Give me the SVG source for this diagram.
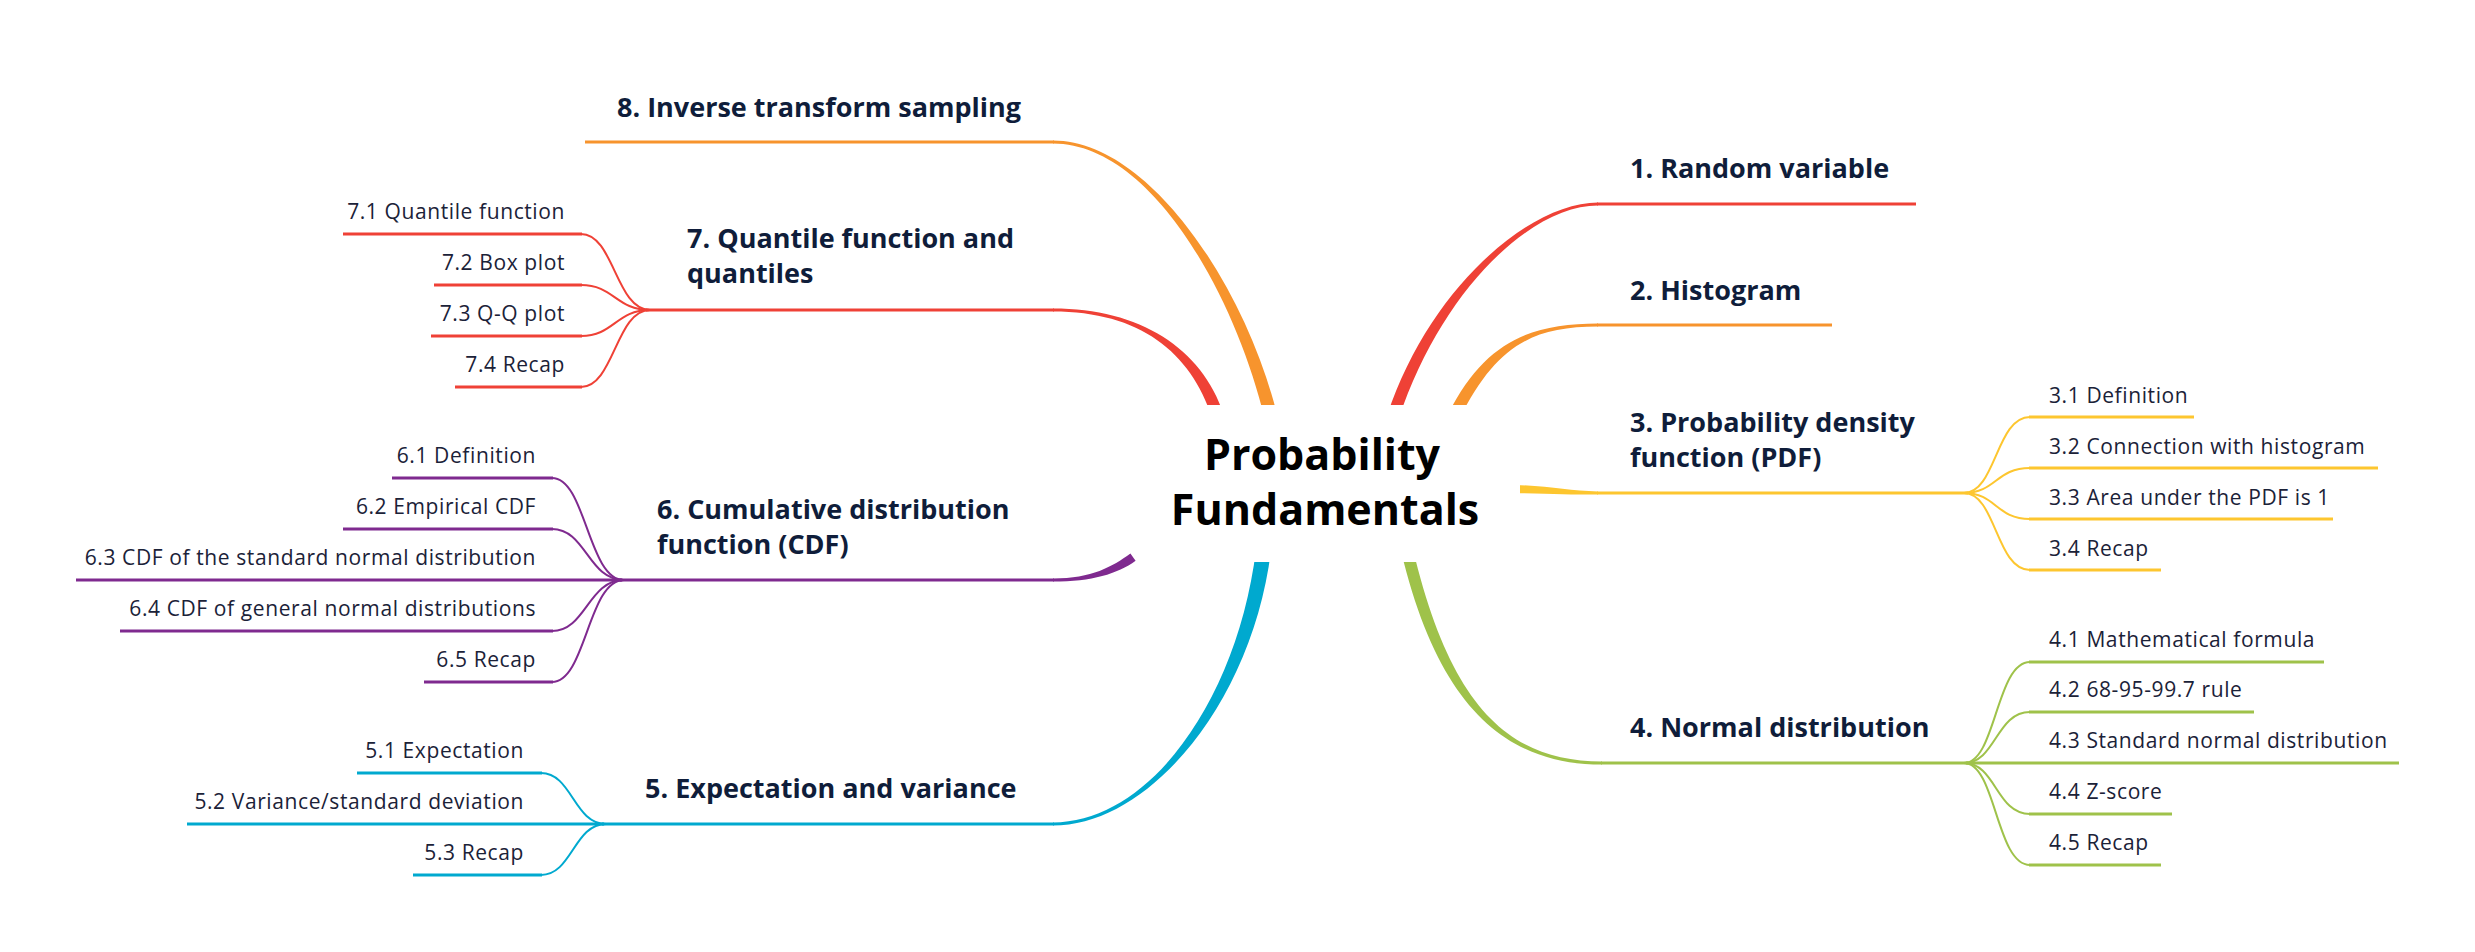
<svg xmlns="http://www.w3.org/2000/svg" width="2475" height="952" viewBox="0 0 2475 952">
<style>
.c{fill:none;stroke-linecap:butt}
.sub{stroke-width:2}
.ul{stroke-width:3}
.main{stroke-width:3.2}
.red{stroke:#ef4136}.redf{fill:#ef4136}
.org{stroke:#f7942d}.orgf{fill:#f7942d}
.yel{stroke:#fdc62f}.yelf{fill:#fdc62f}
.grn{stroke:#9fc24a}.grnf{fill:#9fc24a}
.cyn{stroke:#00a9cf}.cynf{fill:#00a9cf}
.pur{stroke:#7f2a8f}.purf{fill:#7f2a8f}
.t1{font-family:"Open Sans","Liberation Sans",sans-serif;font-weight:700;font-size:27px;fill:#0f1d3a}
.t2{font-family:"Open Sans","Liberation Sans",sans-serif;font-weight:400;font-size:21px;letter-spacing:0.6px;fill:#1b2238}
.tc{font-family:"Open Sans","Liberation Sans",sans-serif;font-weight:700;font-size:43px;fill:#000;text-anchor:middle}
.e{text-anchor:end}
</style>
<rect width="2475" height="952" fill="#fff"/>
<g id="connectors">
  <path class="redf" d="M1398.7,418.9 C1440.7,291.9 1530,205.6 1598,205.6 L1598,202.4 C1530,202.4 1429.3,288.1 1387.3,415.1 Z"/>
  <line class="c main red" x1="1597" y1="204" x2="1916" y2="204"/>
  <path class="orgf" d="M1459.4,418.7 C1495.4,347.7 1530,326.6 1598,326.6 L1598,323.4 C1530,323.4 1484.6,342.3 1448.6,413.3 Z"/>
  <line class="c main org" x1="1597" y1="325" x2="1832" y2="325"/>
  <path class="yelf" d="M1515,485 C1550,486 1570,491.4 1598,491.4 L1598,494.6 C1570,494.6 1550,494 1515,493 Z"/>
  <line class="c main yel" x1="1597" y1="493" x2="1968" y2="493"/>
  <path class="c sub yel" d="M1964,493 C1996,493 1996,417 2030,417"/>
  <path class="c sub yel" d="M1964,493 C1996,493 1996,468 2030,468"/>
  <path class="c sub yel" d="M1964,493 C1996,493 1996,519 2030,519"/>
  <path class="c sub yel" d="M1964,493 C1996,493 1996,570 2030,570"/>
  <line class="c ul yel" x1="2029" y1="417" x2="2194" y2="417"/>
  <line class="c ul yel" x1="2029" y1="468" x2="2378" y2="468"/>
  <line class="c ul yel" x1="2029" y1="519" x2="2333" y2="519"/>
  <line class="c ul yel" x1="2029" y1="570" x2="2161" y2="570"/>
  <path class="grnf" d="M1401.2,551.4 C1439.2,711.4 1510,764.6 1602,764.6 L1602,761.4 C1510,761.4 1450.8,708.6 1412.8,548.6 Z"/>
  <line class="c main grn" x1="1601" y1="763" x2="1968" y2="763"/>
  <path class="c sub grn" d="M1964,763 C1996,763 1996,662 2030,662"/>
  <path class="c sub grn" d="M1964,763 C1996,763 1996,712 2030,712"/>
  <path class="c sub grn" d="M1964,763 C1996,763 1996,814 2030,814"/>
  <path class="c sub grn" d="M1964,763 C1996,763 1996,865 2030,865"/>
  <line class="c ul grn" x1="2029" y1="662" x2="2324" y2="662"/>
  <line class="c ul grn" x1="2029" y1="712" x2="2254" y2="712"/>
  <line class="c ul grn" x1="1966" y1="763" x2="2399" y2="763"/>
  <line class="c ul grn" x1="2029" y1="814" x2="2172" y2="814"/>
  <line class="c ul grn" x1="2029" y1="865" x2="2161" y2="865"/>
  <path class="orgf" d="M1277.3,415.5 C1246.3,288.5 1150,140.4 1053,140.4 L1053,143.6 C1150,143.6 1233.7,291.5 1264.7,418.5 Z"/>
  <line class="c main org" x1="1054" y1="142" x2="585" y2="142"/>
  <path class="redf" d="M1223.7,414.1 C1201.7,348.1 1140,308.4 1053,308.4 L1053,311.6 C1140,311.6 1190.3,351.9 1212.3,417.9 Z"/>
  <line class="c main red" x1="1054" y1="310" x2="646" y2="310"/>
  <path class="c sub red" d="M650,310 C616,310 614,234 581,234"/>
  <path class="c sub red" d="M650,310 C616,310 614,285 581,285"/>
  <path class="c sub red" d="M650,310 C616,310 614,336 581,336"/>
  <path class="c sub red" d="M650,310 C616,310 614,387 581,387"/>
  <line class="c ul red" x1="582" y1="234" x2="343" y2="234"/>
  <line class="c ul red" x1="582" y1="285" x2="434" y2="285"/>
  <line class="c ul red" x1="582" y1="336" x2="431" y2="336"/>
  <line class="c ul red" x1="582" y1="387" x2="455" y2="387"/>
  <path class="purf" d="M1053,581.6 C1092,581.6 1117.6,573.7 1135.6,560.7 L1130.4,553.4 C1112.4,566.4 1092,578.4 1053,578.4 Z"/>
  <line class="c main pur" x1="1054" y1="580" x2="620" y2="580"/>
  <path class="c sub pur" d="M624,580 C588,580 586,478 552,478"/>
  <path class="c sub pur" d="M624,580 C588,580 586,529 552,529"/>
  <path class="c sub pur" d="M624,580 C588,580 586,631 552,631"/>
  <path class="c sub pur" d="M624,580 C588,580 586,682 552,682"/>
  <line class="c ul pur" x1="553" y1="478" x2="392" y2="478"/>
  <line class="c ul pur" x1="553" y1="529" x2="343" y2="529"/>
  <line class="c ul pur" x1="622" y1="580" x2="76" y2="580"/>
  <line class="c ul pur" x1="553" y1="631" x2="120" y2="631"/>
  <line class="c ul pur" x1="553" y1="682" x2="424" y2="682"/>
  <path class="cynf" d="M1256.1,549.1 C1237.6,699.1 1150,822.4 1053,822.4 L1053,825.6 C1150,825.6 1252.4,700.9 1270.9,550.9 Z"/>
  <line class="c main cyn" x1="1054" y1="824" x2="602" y2="824"/>
  <path class="c sub cyn" d="M606,824 C574,824 572,773 541,773"/>
  <path class="c sub cyn" d="M606,824 C574,824 572,875 541,875"/>
  <line class="c ul cyn" x1="542" y1="773" x2="357" y2="773"/>
  <line class="c ul cyn" x1="604" y1="824" x2="187" y2="824"/>
  <line class="c ul cyn" x1="542" y1="875" x2="413" y2="875"/>
</g>
<g id="center">
  <rect x="1136" y="405" width="384" height="157" fill="#fff"/>
  <text class="tc" x="1322" y="470">Probability</text>
  <text class="tc" x="1325" y="525">Fundamentals</text>
</g>
<g id="n1"><text class="t1" x="1630" y="178">1. Random variable</text></g>
<g id="n2"><text class="t1" x="1630" y="300">2. Histogram</text></g>
<g id="n3"><text class="t1" x="1630" y="432">3. Probability density</text><text class="t1" x="1630" y="467">function (PDF)</text></g>
<g id="n3-1"><text class="t2" x="2049" y="403">3.1 Definition</text></g>
<g id="n3-2"><text class="t2" x="2049" y="454">3.2 Connection with histogram</text></g>
<g id="n3-3"><text class="t2" x="2049" y="505">3.3 Area under the PDF is 1</text></g>
<g id="n3-4"><text class="t2" x="2049" y="556">3.4 Recap</text></g>
<g id="n4"><text class="t1" x="1630" y="737">4. Normal distribution</text></g>
<g id="n4-1"><text class="t2" x="2049" y="647">4.1 Mathematical formula</text></g>
<g id="n4-2"><text class="t2" x="2049" y="697">4.2 68-95-99.7 rule</text></g>
<g id="n4-3"><text class="t2" x="2049" y="748">4.3 Standard normal distribution</text></g>
<g id="n4-4"><text class="t2" x="2049" y="799">4.4 Z-score</text></g>
<g id="n4-5"><text class="t2" x="2049" y="850">4.5 Recap</text></g>
<g id="n5"><text class="t1" x="645" y="798">5. Expectation and variance</text></g>
<g id="n5-1"><text class="t2 e" x="524" y="758">5.1 Expectation</text></g>
<g id="n5-2"><text class="t2 e" x="524" y="809">5.2 Variance/standard deviation</text></g>
<g id="n5-3"><text class="t2 e" x="524" y="860">5.3 Recap</text></g>
<g id="n6"><text class="t1" x="657" y="519">6. Cumulative distribution</text><text class="t1" x="657" y="554">function (CDF)</text></g>
<g id="n6-1"><text class="t2 e" x="536" y="463">6.1 Definition</text></g>
<g id="n6-2"><text class="t2 e" x="536" y="514">6.2 Empirical CDF</text></g>
<g id="n6-3"><text class="t2 e" x="536" y="565">6.3 CDF of the standard normal distribution</text></g>
<g id="n6-4"><text class="t2 e" x="536" y="616">6.4 CDF of general normal distributions</text></g>
<g id="n6-5"><text class="t2 e" x="536" y="667">6.5 Recap</text></g>
<g id="n7"><text class="t1" x="687" y="248">7. Quantile function and</text><text class="t1" x="687" y="283">quantiles</text></g>
<g id="n7-1"><text class="t2 e" x="565" y="219">7.1 Quantile function</text></g>
<g id="n7-2"><text class="t2 e" x="565" y="270">7.2 Box plot</text></g>
<g id="n7-3"><text class="t2 e" x="565" y="321">7.3 Q-Q plot</text></g>
<g id="n7-4"><text class="t2 e" x="565" y="372">7.4 Recap</text></g>
<g id="n8"><text class="t1" x="617" y="117">8. Inverse transform sampling</text></g>
</svg>
